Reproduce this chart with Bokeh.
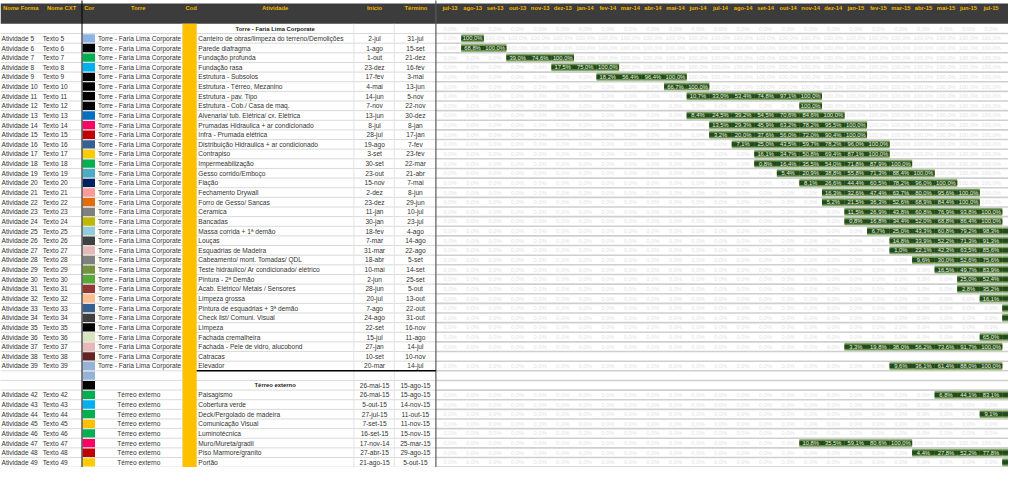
from bokeh.plotting import figure
from bokeh.models import Range1d, ColumnDataSource
from bokeh.core.properties import value
from bokeh.embed import file_html
from bokeh.resources import INLINE

# ---------------- data ----------------
header_cols = ["Nome Forma", "Nome CXT", "Cor", "Torre", "Cod", "Atividade", "Início", "Término"]
months = ["jul-13", "ago-13", "set-13", "out-13", "nov-13", "dez-13", "jan-14", "fev-14",
          "mar-14", "abr-14", "mai-14", "jun-14", "jul-14", "ago-14", "set-14", "out-14",
          "nov-14", "dez-14", "jan-15", "fev-15", "mar-15", "abr-15", "mai-15", "jun-15",
          "jul-15", "ago-15"]
visible_months = 25  # the ago-15 column is cut at the picture's edge

nome_forma = [""] + [f"Atividade {n}" for n in range(5, 40)] + ["", ""] + [f"Atividade {n}" for n in range(42, 50)]
nome_cxt = [""] + [f"Texto {n}" for n in range(5, 40)] + ["", ""] + [f"Texto {n}" for n in range(42, 50)]
torre = [""] + ["Torre - Faria Lima Corporate"] * 35 + ["", ""] + ["Térreo externo"] * 8

cor = [None, "#8DB4E2", "#000000", "#00B050", "#00B0F0", "#000000", "#000000", "#000000",
       "#000000", "#0070C0", "#FF0066", "#C00000", "#366092", "#FFCC00", "#00B050", "#4BACC6",
       "#002060", "#FF9999", "#E26B0A", "#808080", "#BFB800", "#92CDDC", "#404040", "#E6B8B7",
       "#808080", "#76933C", "#59A93A", "#963634", "#FABF8F", "#366092", "#404040", "#000000",
       "#D8E4BC", "#E6B8B7", "#632523", "#95B3D7", "#95B3D7", "#000000", "#00B050", "#00B0F0",
       "#00B050", "#FFC000", "#00B050", "#FF0066", "#C00000", "#FFCC00"]

atividade = ["Torre - Faria Lima Corporate",
             "Canteiro de obras/limpeza do terreno/Demolições", "Parede diafragma",
             "Fundação profunda", "Fundação rasa", "Estrutura - Subsolos",
             "Estrutura - Térreo, Mezanino", "Estrutura - pav. Tipo",
             "Estrutura - Cob./ Casa de maq.", "Alvenaria/ tub. Elétrica/ cx. Elétrica",
             "Prumadas Hidraulica + ar condicionado", "Infra - Prumada elétrica",
             "Distribuição Hidraulica + ar condicionado", "Contrapiso", "Impermeabilização",
             "Gesso corrido/Emboço", "Fiação", "Fechamento Drywall", "Forro de Gesso/ Sancas",
             "Ceramica", "Bancadas", "Massa corrida + 1ª demão", "Louças", "Esquadrias de Madeira",
             "Cabeamento/ mont. Tomadas/ QDL", "Teste hidráulico/ Ar condicionado/ elétrico",
             "Pintura - 2ª Demão", "Acab. Elétrico/ Metais / Sensores", "Limpeza grossa",
             "Pintura de esquadrias + 3ª demão", "Check list/ Comuni. Visual", "Limpeza",
             "Fachada cremalheira", "Fachada  - Pele de vidro, alucobond", "Catracas", "Elevador",
             "", "Térreo externo",
             "Paisagismo", "Cobertura verde", "Deck/Pergolado de madeira", "Comunicação Visual",
             "Luminotécnica", "Muro/Mureta/gradil", "Piso Marmore/granito", "Portão"]
section_rows = [0, 37]

inicio = ["", "2-jul", "1-ago", "1-out", "23-dez", "17-fev", "4-mai", "14-jun", "7-nov", "13-jun",
          "8-jul", "28-jul", "19-ago", "3-set", "30-set", "23-out", "15-nov", "2-dez", "23-dez",
          "11-jan", "30-jan", "18-fev", "7-mar", "31-mar", "18-abr", "10-mai", "2-jun", "28-jun",
          "20-jul", "7-ago", "24-ago", "22-set", "15-jul", "27-jan", "10-set", "20-mar", "",
          "26-mai-15", "26-mai-15", "5-out-15", "27-jul-15", "7-set-15", "16-set-15",
          "17-nov-14", "27-abr-15", "21-ago-15"]
termino = ["", "31-jul", "15-set", "21-dez", "16-fev", "3-mai", "13-jun", "5-nov", "22-nov", "30-dez",
           "8-jan", "17-jan", "7-fev", "23-fev", "22-mar", "21-abr", "7-mai", "8-jun", "29-jun",
           "10-jul", "23-jul", "4-ago", "14-ago", "22-ago", "5-set", "14-set", "25-set", "5-out",
           "13-out", "22-out", "31-out", "16-nov", "11-ago", "14-jul", "10-nov", "14-jul", "",
           "15-ago-15", "15-ago-15", "14-nov-15", "11-out-15", "11-nov-15", "15-nov-15",
           "25-mar-15", "29-ago-15", "5-out-15"]

# progress per month: start month index + values of active months; None = empty row
gantt_start = [None, 1, 1, 3, 5, 7, 10, 11, 16, 11, 12, 12, 13, 14, 14, 15, 16, 17, 17, 18, 18,
               19, 20, 20, 21, 22, 23, 23, 24, 25, 25, None, 24, 18, None, 20, None, None,
               22, None, 24, None, None, 16, 21, 25]
gantt_vals = [[], [100.0], [68.8, 100.0], [39.0, 74.6, 100.0], [17.5, 75.0, 100.0],
              [18.2, 56.4, 96.4, 100.0], [66.7, 100.0], [10.7, 33.0, 53.4, 74.8, 97.1, 100.0],
              [100.0], [8.4, 24.5, 39.2, 54.5, 70.6, 84.6, 100.0],
              [13.5, 29.3, 45.9, 63.2, 78.2, 95.5, 100.0], [3.2, 20.0, 37.6, 56.0, 72.0, 90.4, 100.0],
              [7.1, 25.0, 43.5, 59.7, 78.2, 96.0, 100.0], [16.1, 34.7, 50.8, 69.4, 87.1, 100.0],
              [0.8, 16.4, 35.5, 54.0, 71.8, 87.9, 100.0], [5.4, 20.9, 38.8, 55.8, 71.3, 88.4, 100.0],
              [8.1, 26.6, 44.4, 60.5, 78.2, 96.0, 100.0], [16.3, 32.6, 47.4, 63.7, 80.0, 95.6, 100.0],
              [5.2, 21.5, 36.3, 52.6, 68.9, 84.4, 100.0], [11.5, 26.9, 43.8, 60.8, 76.9, 93.8, 100.0],
              [0.8, 16.8, 34.4, 52.0, 68.8, 86.4, 100.0], [6.7, 25.0, 43.3, 60.8, 79.2, 98.3, 100.0],
              [14.8, 33.9, 52.2, 71.3, 91.3, 100.0], [1.0, 22.1, 42.3, 63.5, 85.6, 100.0],
              [9.6, 30.0, 52.6, 75.6, 97.4], [16.5, 49.7, 83.9, 97.0], [25.0, 52.4, 80.6],
              [2.8, 35.2, 67.6], [16.1, 47.3], [32.1], [9.4], [], [65.0, 100.0],
              [3.3, 19.8, 38.0, 56.2, 73.6, 91.7, 100.0], None, [9.6, 36.1, 61.4, 88.0, 100.0],
              None, None, [6.8, 44.1, 83.1, 100.0], [], [9.1, 45.5], [], [],
              [10.8, 35.5, 59.1, 80.6, 100.0], [4.4, 27.8, 52.2, 77.8, 97.0], [17.5]]

# ---------------- layout helpers ----------------
FONT = value("Liberation Sans")
ROW_H = 9.925
N = len(nome_forma)


def yc(i):
    return 41 + (i - 1) * ROW_H


def pct(v):
    return f"{v:.1f}%".replace(".", ",")


COL_W = 22.9
G0 = 445.2


def gx(j):
    return G0 + j * COL_W + COL_W / 2


p = figure(width=1008, height=467, output_backend="svg", toolbar_location=None,
           x_range=Range1d(0, 1024), y_range=Range1d(483, 2), min_border=0,
           x_axis_type=None, y_axis_type=None)
p.grid.visible = False
p.outline_line_color = None
p.background_fill_color = "white"
p.border_fill_color = "white"

# header band
p.quad(left=[0], right=[1024], top=[5], bottom=[26], fill_color="#3c3c3c", line_color=None)

# row lines
ys_b = [yc(i) + ROW_H / 2 for i in range(N)]
p.segment(x0=[0] * N, x1=[442] * N, y0=ys_b, y1=ys_b, line_color="#dadada", line_width=1)
p.segment(x0=[442] * N, x1=[1024] * N, y0=ys_b, y1=ys_b, line_color="#cfcfcf", line_width=1.6)
# faint column separators
p.segment(x0=[359, 400, 185], x1=[359, 400, 185], y0=[26] * 3, y1=[483] * 3,
          line_color="#e2e2e2", line_width=1)

# Cor swatches
sw = [(i, c) for i, c in enumerate(cor) if c]
p.quad(left=[83.5] * len(sw), right=[96] * len(sw),
       top=[yc(i) - 4.3 for i, _ in sw], bottom=[yc(i) + 4.3 for i, _ in sw],
       fill_color=[c for _, c in sw], line_color=None)
# Cod column
p.quad(left=[185], right=[199.3], top=[26], bottom=[483], fill_color="#FFC000", line_color=None)

# vertical lines
p.segment(x0=[82.8], x1=[82.8], y0=[0], y1=[483], line_color="#000000", line_width=1)
p.segment(x0=[442.3], x1=[442.3], y0=[0], y1=[483], line_color="#5a5a5a", line_width=1.2)
# thick line under last tower activity
yl = yc(35) + ROW_H / 2
p.segment(x0=[199.3], x1=[442.3], y0=[yl], y1=[yl], line_color="#000000", line_width=1.6)

# header text
hx = [20.5, 62, 85, 140, 188, 279, 380, 422]
ha = ["center", "center", "left", "center", "left", "center", "center", "center"]
mvis = months[:visible_months]
hsrc = ColumnDataSource(dict(x=hx + [gx(j) for j in range(len(mvis))],
                             y=[10] * (len(hx) + len(mvis)),
                             t=header_cols + mvis,
                             a=ha + ["center"] * len(mvis)))
p.text(x="x", y="y", text="t", text_align="a", source=hsrc, text_baseline="middle",
       text_font=FONT, text_font_size="5.8px", text_font_style="bold", text_color="#F2B300")

# left table texts
reg = dict(text_font=FONT, text_font_size="6.6px", text_baseline="middle", text_color="#333333")
rows = [i for i in range(N)]
p.text(x=[1] * N, y=[yc(i) for i in rows], text=nome_forma, text_align="left", **reg)
p.text(x=[43] * N, y=[yc(i) for i in rows], text=nome_cxt, text_align="left", **reg)
tl = [i for i in rows if torre[i].startswith("Torre")]
tc = [i for i in rows if torre[i] and not torre[i].startswith("Torre")]
p.text(x=[99] * len(tl), y=[yc(i) for i in tl], text=[torre[i] for i in tl], text_align="left", **reg)
p.text(x=[140.5] * len(tc), y=[yc(i) for i in tc], text=[torre[i] for i in tc], text_align="center", **reg)
ar = [i for i in rows if i not in section_rows]
p.text(x=[201] * len(ar), y=[yc(i) for i in ar], text=[atividade[i] for i in ar], text_align="left", **reg)
p.text(x=[279] * len(section_rows), y=[yc(i) for i in section_rows],
       text=[atividade[i] for i in section_rows], text_align="center",
       text_font=FONT, text_font_size="5.9px", text_font_style="bold", text_baseline="middle",
       text_color="#222222")
p.text(x=[380] * N, y=[yc(i) for i in rows], text=inicio, text_align="center", **reg)
p.text(x=[421.5] * N, y=[yc(i) for i in rows], text=termino, text_align="center", **reg)

# gantt cells
faint_x, faint_y, faint_t = [], [], []
bar_x, bar_y, bar_t = [], [], []
NM = len(months)
for i in rows:
    vals = gantt_vals[i]
    if vals is None:
        continue
    s = gantt_start[i]
    if s is None:
        for j in range(NM):
            faint_x.append(gx(j)); faint_y.append(yc(i)); faint_t.append(pct(0.0))
        continue
    for j in range(NM):
        if j < s:
            faint_x.append(gx(j)); faint_y.append(yc(i)); faint_t.append(pct(0.0))
        elif j < s + len(vals):
            bar_x.append(gx(j)); bar_y.append(yc(i)); bar_t.append(pct(vals[j - s]))
        elif vals[-1] >= 100.0:
            faint_x.append(gx(j)); faint_y.append(yc(i)); faint_t.append(pct(100.0))

xmax_text = gx(visible_months - 1) + 1
fk = [k for k in range(len(faint_x)) if faint_x[k] <= xmax_text]
p.text(x=[faint_x[k] for k in fk], y=[faint_y[k] for k in fk], text=[faint_t[k] for k in fk],
       text_align="center", text_baseline="middle",
       text_font=FONT, text_font_size="5.8px", text_color="#e4e4e4")

for hh, col in [(8.4, "#a3c28a"), (6.6, "#6a9150"), (4.2, "#234a1b")]:
    p.quad(left=[x - COL_W / 2 for x in bar_x], right=[x + COL_W / 2 for x in bar_x],
           top=[y - hh / 2 for y in bar_y], bottom=[y + hh / 2 for y in bar_y],
           fill_color=col, line_color=None)
bk = [k for k in range(len(bar_x)) if bar_x[k] <= xmax_text]
p.text(x=[bar_x[k] for k in bk], y=[bar_y[k] for k in bk], text=[bar_t[k] for k in bk],
       text_align="center", text_baseline="middle",
       text_font=FONT, text_font_size="5.8px", text_color="#eef3e2")

open("out.html", "w").write(file_html(p, INLINE))
